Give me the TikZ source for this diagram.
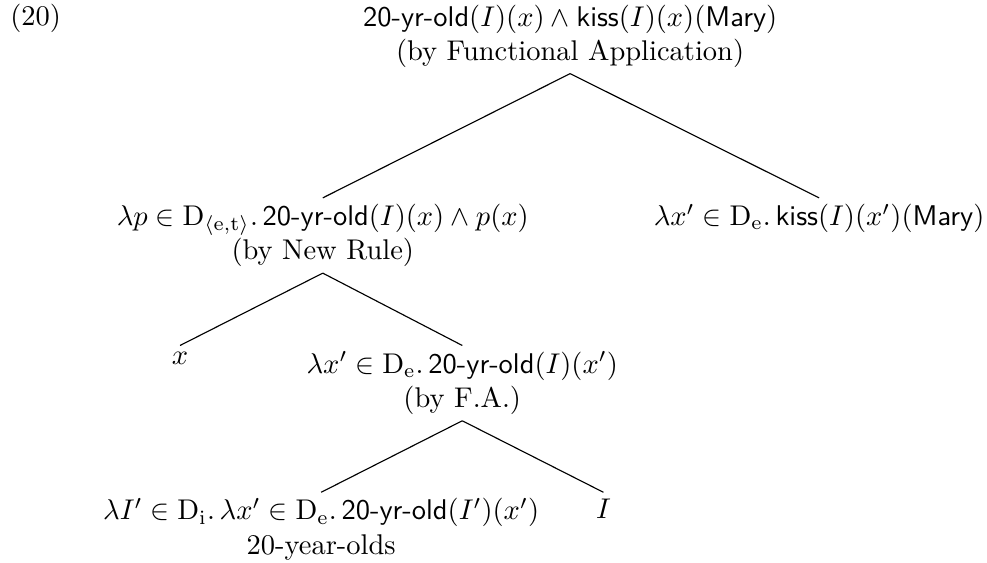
\documentclass[tikz,border=0pt]{standalone}
\usepackage{amsmath,amssymb}
\usepackage{tikz}
\usetikzlibrary{positioning}

\newcommand{\yrold}{\textsf{20-yr-old}}

\begin{document}
\begin{tikzpicture}[
  sem/.style={anchor=north, align=center, inner xsep=0pt, inner ysep=2pt},
  branch/.style={thin}]

  \useasboundingbox (0,0) rectangle (12.17,-6.94);

  \node[anchor=west, inner sep=0pt] (ex) at (0.12,-0.23) {(20)};

  % top of the tree
  \node[sem] (root) at (7.03,0.02)
    {$\yrold(I)(x) \wedge \textsf{kiss}(I)(x)(\textsf{Mary})$\\(by Functional Application)};

  \node[sem] (newrule) at (3.98,-2.44)
    {$\lambda p \in \mathrm{D}_{\langle \mathrm{e},\mathrm{t}\rangle}.\,\yrold(I)(x) \wedge p(x)$\\(by New Rule)};
  \node[sem] (kiss) at (10.10,-2.44)
    {$\lambda x' \in \mathrm{D}_{\mathrm{e}}.\,\textsf{kiss}(I)(x')(\textsf{Mary})$};

  \node[sem] (var) at (2.22,-4.26) {$x$};
  \node[sem] (fa) at (5.70,-4.26)
    {$\lambda x' \in \mathrm{D}_{\mathrm{e}}.\,\yrold(I)(x')$\\(by F.A.)};

  \node[sem] (olds) at (3.96,-6.07)
    {$\lambda I' \in \mathrm{D}_{\mathrm{i}}.\,\lambda x' \in \mathrm{D}_{\mathrm{e}}.\,\yrold(I')(x')$\\20-year-olds};
  \node[sem] (index) at (7.44,-6.07) {$I$};

  \draw[branch] (root.south) -- (newrule.north);
  \draw[branch] (root.south) -- (kiss.north);
  \draw[branch] (newrule.south) -- (var.north);
  \draw[branch] (newrule.south) -- (fa.north);
  \draw[branch] (fa.south) -- (olds.north);
  \draw[branch] (fa.south) -- (index.north);
\end{tikzpicture}
\end{document}
